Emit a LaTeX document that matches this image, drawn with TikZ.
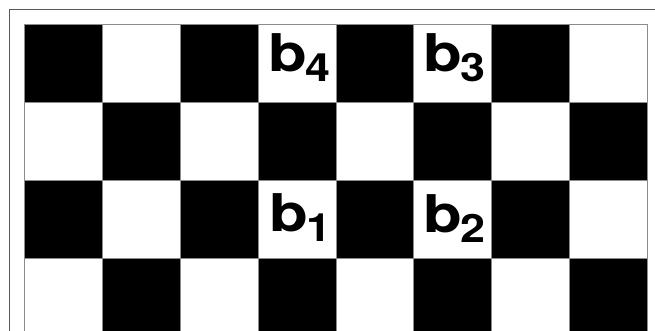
\documentclass[tikz,border=0pt]{standalone}
\usepackage{graphicx}
\usepackage{fontspec}
\setmainfont{TeX Gyre Heros}
\newcommand\blab[1]{\scalebox{1.22}[1]{b}\kern-1.5pt\raisebox{-10pt}{\scalebox{1.15}[1]{\fontsize{39}{39}\selectfont #1}}}
\begin{document}
\begin{tikzpicture}[x=1pt,y=-1pt,
  frame/.style={draw=black!65, line width=0.9pt},
  whitecell/.style={draw=black!45, line width=0.7pt, fill=white},
  blackcell/.style={draw=black!45, line width=0.7pt, fill=black},
  lab/.style={anchor=base west, inner sep=0pt, font=\bfseries\fontsize{52}{52}\selectfont}]
\useasboundingbox (0,0) rectangle (655,331);
\clip (0,0) rectangle (655,331);
\fill[white] (0,0) rectangle (655,331);
\draw[frame] (9,9) rectangle (720,420);
\def\cs{77.85}
\foreach \i in {0,...,7}
 \foreach \j in {0,...,3} {
   \pgfmathtruncatemacro\oddc{mod(\i+\j,2)}
   \ifnum\oddc=0
     \draw[blackcell] (24.5+\i*\cs,24.5+\j*\cs) rectangle ++(\cs,\cs);
   \else
     \draw[whitecell] (24.5+\i*\cs,24.5+\j*\cs) rectangle ++(\cs,\cs);
   \fi
 }
\node[lab] (b4) at (268.2,71.7) {\blab{4}};
\node[lab] (b3) at (423.2,71.7) {\blab{3}};
\node[lab] (b1) at (269.5,231.5) {\blab{1}};
\node[lab] (b2) at (423.2,232.5) {\blab{2}};
\end{tikzpicture}
\end{document}
